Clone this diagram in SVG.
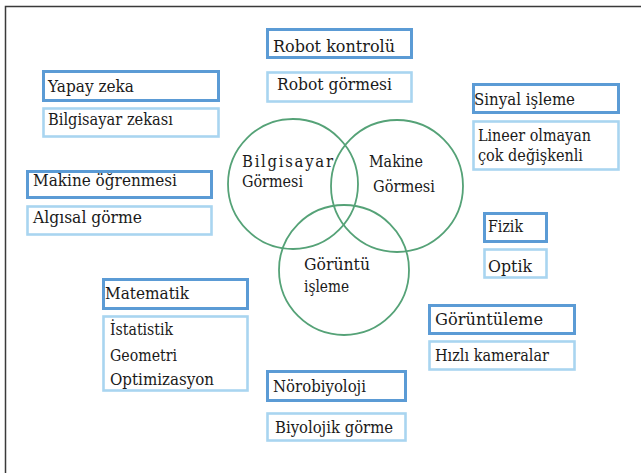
<svg xmlns="http://www.w3.org/2000/svg" width="641" height="473" viewBox="0 0 641 473">
<style>
.bg{fill:#ffffff}
.frame{fill:none;stroke:#3a3a3a;stroke-width:1.5}
.dk{fill:#ffffff;stroke:#5b9bd5;stroke-width:3}
.lt{fill:#ffffff;stroke:#a9d5f0;stroke-width:2.6}
.ring{fill:none;stroke:#55a277;stroke-width:1.8}
.t{font-family:'DejaVu Serif Condensed','DejaVu Serif','Liberation Serif',serif;font-stretch:condensed;font-size:17.5px;fill:#1a1a1a}
.cl{font-size:16.5px}
</style>
<rect class="bg" x="0" y="0" width="641" height="473"/>
<path class="frame" d="M5.5,473 V6.5 H641"/>
<g id="venn">
<g id="c-bilgisayar">
<circle class="ring" cx="293" cy="184" r="65"/>
<text class="t cl" x="242" y="167" textLength="91" lengthAdjust="spacing">Bilgisayar</text>
<text class="t cl" x="242" y="187" textLength="61" lengthAdjust="spacingAndGlyphs">Görmesi</text>
</g>
<g id="c-makine">
<circle class="ring" cx="397" cy="186" r="66"/>
<text class="t cl" x="369" y="167" textLength="54" lengthAdjust="spacingAndGlyphs">Makine</text>
<text class="t cl" x="373" y="192" textLength="62" lengthAdjust="spacingAndGlyphs">Görmesi</text>
</g>
<g id="c-goruntu">
<circle class="ring" cx="344" cy="270" r="65"/>
<text class="t cl" x="304" y="270" textLength="66" lengthAdjust="spacingAndGlyphs">Görüntü</text>
<text class="t cl" x="304" y="292" textLength="45" lengthAdjust="spacingAndGlyphs">işleme</text>
</g>
</g>
<g id="robot-kontrolu">
<rect class="dk" x="267.5" y="29.5" width="144" height="28"/>
<text class="t" x="273" y="52" textLength="122" lengthAdjust="spacingAndGlyphs">Robot kontrolü</text>
</g>
<g id="robot-gormesi">
<rect class="lt" x="267.5" y="72.5" width="144" height="29"/>
<text class="t" x="277" y="90" textLength="115" lengthAdjust="spacingAndGlyphs">Robot görmesi</text>
</g>
<g id="yapay-zeka">
<rect class="dk" x="43.5" y="71.5" width="175" height="29"/>
<text class="t" x="48" y="92" textLength="86" lengthAdjust="spacingAndGlyphs">Yapay zeka</text>
</g>
<g id="bilgisayar-zekasi">
<rect class="lt" x="43.5" y="108.5" width="175" height="28"/>
<text class="t" x="48" y="125" textLength="125" lengthAdjust="spacingAndGlyphs">Bilgisayar zekası</text>
</g>
<g id="sinyal-isleme">
<rect class="dk" x="473.5" y="84.5" width="145" height="28"/>
<text class="t" x="474" y="105" textLength="101" lengthAdjust="spacingAndGlyphs">Sinyal işleme</text>
</g>
<g id="lineer">
<rect class="lt" x="473.5" y="121.5" width="145" height="48"/>
<text class="t" x="478" y="141" textLength="113" lengthAdjust="spacingAndGlyphs">Lineer olmayan</text>
<text class="t" x="478" y="161" textLength="105" lengthAdjust="spacingAndGlyphs">çok değişkenli</text>
</g>
<g id="makine-ogrenmesi">
<rect class="dk" x="27.5" y="171.5" width="184" height="26"/>
<text class="t" x="33" y="186" textLength="144" lengthAdjust="spacingAndGlyphs">Makine öğrenmesi</text>
</g>
<g id="algisal-gorme">
<rect class="lt" x="27.5" y="206.5" width="184" height="28"/>
<text class="t" x="33" y="223" textLength="109" lengthAdjust="spacingAndGlyphs">Algısal görme</text>
</g>
<g id="fizik">
<rect class="dk" x="484.5" y="213.5" width="62" height="28"/>
<text class="t" x="488" y="232" textLength="35" lengthAdjust="spacingAndGlyphs">Fizik</text>
</g>
<g id="optik">
<rect class="lt" x="484.5" y="249.5" width="62" height="28"/>
<text class="t" x="488" y="272" textLength="44" lengthAdjust="spacingAndGlyphs">Optik</text>
</g>
<g id="matematik">
<rect class="dk" x="103.5" y="279.5" width="144" height="29"/>
<text class="t" x="105" y="299" textLength="84" lengthAdjust="spacingAndGlyphs">Matematik</text>
</g>
<g id="istatistik">
<rect class="lt" x="103.5" y="316.5" width="144" height="74"/>
<text class="t" x="110" y="335" textLength="63" lengthAdjust="spacingAndGlyphs">İstatistik</text>
<text class="t" x="110" y="361" textLength="67" lengthAdjust="spacingAndGlyphs">Geometri</text>
<text class="t" x="110" y="385" textLength="104" lengthAdjust="spacingAndGlyphs">Optimizasyon</text>
</g>
<g id="goruntuleme">
<rect class="dk" x="429.5" y="305.5" width="145" height="28"/>
<text class="t" x="435" y="325" textLength="108" lengthAdjust="spacingAndGlyphs">Görüntüleme</text>
</g>
<g id="hizli-kameralar">
<rect class="lt" x="429.5" y="341.5" width="145" height="28"/>
<text class="t" x="435" y="361" textLength="114" lengthAdjust="spacingAndGlyphs">Hızlı kameralar</text>
</g>
<g id="norobiyoloji">
<rect class="dk" x="267.5" y="371.5" width="138" height="29"/>
<text class="t" x="273" y="392" textLength="93" lengthAdjust="spacingAndGlyphs">Nörobiyoloji</text>
</g>
<g id="biyolojik-gorme">
<rect class="lt" x="267.5" y="413.5" width="138" height="27"/>
<text class="t" x="275" y="433" textLength="118" lengthAdjust="spacingAndGlyphs">Biyolojik görme</text>
</g>
</svg>
